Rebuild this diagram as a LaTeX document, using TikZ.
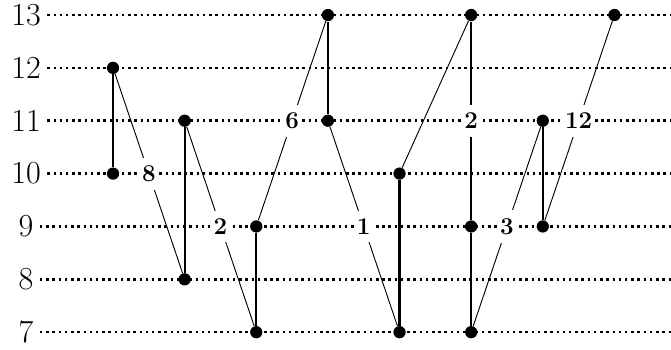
\documentclass[tikz,border=0pt]{standalone}
\usepackage{tikz}
\usetikzlibrary{calc}

\begin{document}
\begin{tikzpicture}[x=1.355cm, y=1cm,
  pt/.style={circle, fill, inner sep=0pt, minimum size=6.6pt},
  rowlbl/.style={font=\LARGE},
  wt/.style={font=\fontsize{13}{15}\selectfont\bfseries, fill=white, inner xsep=1pt, inner ysep=4.3pt},
  bar/.style={line width=1.2pt},
  link/.style={line width=0.5pt}]
  \useasboundingbox (-0.578,6.678) rectangle (8.79,13.284);
  % value rows
  \foreach \v in {7,...,13}{
    \node[rowlbl] (r\v) at (-0.215,\v) {\v};
    \draw[dotted, line width=1.35pt] (r\v.east) -- (8.79,\v);
  }
  % points
  \node[pt] (A1) at (1,12) {}; \node[pt] (A2) at (1,10) {};
  \node[pt] (B1) at (2,11) {}; \node[pt] (B2) at (2,8) {};
  \node[pt] (C1) at (3,9) {};  \node[pt] (C2) at (3,7) {};
  \node[pt] (D1) at (4,13) {}; \node[pt] (D2) at (4,11) {};
  \node[pt] (E1) at (5,10) {}; \node[pt] (E2) at (5,7) {};
  \node[pt] (F1) at (6,13) {}; \node[pt] (F2) at (6,9) {};
  \node[pt] (F3) at (6,7) {};
  \node[pt] (G1) at (7,11) {}; \node[pt] (G2) at (7,9) {};
  \node[pt] (H1) at (8,13) {};
  % vertical bars
  \draw[bar] (A1) -- (A2);
  \draw[bar] (B1) -- (B2);
  \draw[bar] (C1) -- (C2);
  \draw[bar] (D1) -- (D2);
  \draw[line width=2pt] (E1) -- (E2);
  \draw[bar] (F1) -- node[wt] {2} (F2);
  \draw[bar] (F2) -- (F3);
  \draw[bar] (G1) -- (G2);
  % slanted links
  \draw[link] (A1) -- node[wt] {8} (B2);
  \draw[link] (B1) -- node[wt] {2} (C2);
  \draw[link] (C1) -- node[wt] {6} (D1);
  \draw[link] (D2) -- node[wt] {1} (E2);
  \draw[link] (E1) -- (F1);
  \draw[link] (F3) -- node[wt] {3} (G1);
  \draw[link] (G2) -- node[wt] {12} (H1);
\end{tikzpicture}
\end{document}
